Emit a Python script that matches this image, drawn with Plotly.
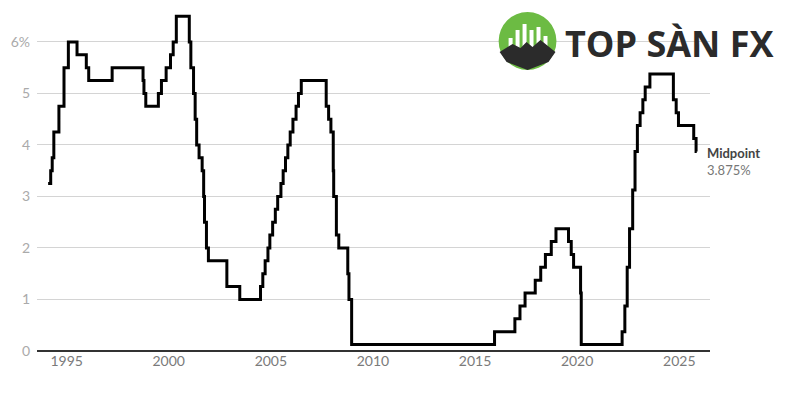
import plotly.graph_objects as go

dates = ["1994-02-04","1994-03-22","1994-04-18","1994-05-17","1994-08-16","1994-11-15",
         "1995-02-01","1995-07-06","1995-12-19","1996-01-31","1997-03-25","1998-09-29",
         "1998-10-15","1998-11-17","1999-06-30","1999-08-24","1999-11-16","2000-02-02",
         "2000-03-21","2000-05-16","2001-01-03","2001-01-31","2001-03-20","2001-04-18",
         "2001-05-15","2001-06-27","2001-08-21","2001-09-17","2001-10-02","2001-11-06",
         "2001-12-11","2002-11-06","2003-06-25","2004-06-30","2004-08-10","2004-09-21",
         "2004-11-10","2004-12-14","2005-02-02","2005-03-22","2005-05-03","2005-06-30",
         "2005-08-09","2005-09-20","2005-11-01","2005-12-13","2006-01-31","2006-03-28",
         "2006-05-10","2006-06-29","2007-09-18","2007-10-31","2007-12-11","2008-01-22",
         "2008-01-30","2008-03-18","2008-04-30","2008-10-08","2008-10-29","2008-12-16",
         "2015-12-16","2016-12-14","2017-03-15","2017-06-14","2017-12-13","2018-03-21",
         "2018-06-13","2018-09-26","2018-12-19","2019-07-31","2019-09-18","2019-10-30",
         "2020-03-03","2020-03-15","2022-03-16","2022-05-04","2022-06-15","2022-07-27",
         "2022-09-21","2022-11-02","2022-12-14","2023-02-01","2023-03-22","2023-05-03",
         "2023-07-26","2024-09-18","2024-11-07","2024-12-18","2025-09-17","2025-10-29",
         "2025-11-10"]
rates = [3.25,3.5,3.75,4.25,4.75,5.5,
         6.0,5.75,5.5,5.25,5.5,5.25,
         5.0,4.75,5.0,5.25,5.5,5.75,
         6.0,6.5,6.0,5.5,5.0,4.5,
         4.0,3.75,3.5,3.0,2.5,2.0,
         1.75,1.25,1.0,1.25,1.5,1.75,
         2.0,2.25,2.5,2.75,3.0,3.25,
         3.5,3.75,4.0,4.25,4.5,4.75,
         5.0,5.25,4.75,4.5,4.25,3.5,
         3.0,2.25,2.0,1.5,1.0,0.125,
         0.375,0.625,0.875,1.125,1.375,1.625,
         1.875,2.125,2.375,2.125,1.875,1.625,
         1.125,0.125,0.375,0.875,1.625,2.375,
         3.125,3.875,4.375,4.625,4.875,5.125,
         5.375,4.875,4.625,4.375,4.125,3.875,
         3.875]

tick_years = ["1995","2000","2005","2010","2015","2020","2025"]
y_ticks = [0, 1, 2, 3, 4, 5, 6]
y_labels = ["0", "1", "2", "3", "4", "5", "6%"]
end_label = "Midpoint"
end_value = "3.875%"

# page body has an 8px margin; work in reference pixels and shift
OFF = 8
W, H = 800 - OFF, 400 - OFF
L, R, T, B = 35 - OFF, 90, 11 - OFF, 49
pw, ph = W - L - R, H - T - B

def px(x):
    return (x - OFF - L) / pw

def py(y):
    return (H - B - (y - OFF)) / ph

fig = go.Figure()
fig.add_trace(go.Scatter(
    x=dates, y=rates, mode="lines", line=dict(color="#000000", width=3, shape="hv"),
    hoverinfo="skip", showlegend=False,
))

shapes = []
shapes.append(dict(type="circle", xref="paper", yref="paper",
                   x0=px(498), x1=px(556), y0=py(70), y1=py(12),
                   fillcolor="#6cbb43", line=dict(width=0), layer="above"))
for (bx, btop) in [(508, 38), (515, 30), (522, 24), (529, 30), (536, 27), (543, 36)]:
    shapes.append(dict(type="rect", xref="paper", yref="paper",
                       x0=px(bx), x1=px(bx + 4), y0=py(50), y1=py(btop),
                       fillcolor="#ffffff", line=dict(width=0), layer="above"))
mx = [499, 512, 520, 526, 532, 540, 555, 548, 527, 506]
my = [52, 44, 48, 42, 47, 40, 52, 62, 70, 62]
path = "M " + " L ".join(f"{px(a):.4f},{py(b):.4f}" for a, b in zip(mx, my)) + " Z"
shapes.append(dict(type="path", xref="paper", yref="paper", path=path,
                   fillcolor="#2b2b2b", line=dict(width=0), layer="above"))

fig.update_layout(
    width=W, height=H,
    margin=dict(l=L, r=R, t=T, b=B),
    plot_bgcolor="#ffffff", paper_bgcolor="#ffffff",
    font=dict(family="Lato", color="#999999", size=14),
    xaxis=dict(
        type="date", range=["1993-07-20", "2026-07-05"],
        tickvals=[f"{y}-01-01" for y in tick_years], ticktext=tick_years,
        showgrid=False, zeroline=False, showline=False, ticks="",
        tickfont=dict(color="#7a7a7a", size=14, family="Lato"),
    ),
    yaxis=dict(
        range=[0, 6.6], tickvals=y_ticks, ticktext=y_labels,
        showgrid=True, gridcolor="#d4d4d4", gridwidth=1,
        zeroline=True, zerolinecolor="#333333", zerolinewidth=2,
        showline=False, ticks="", ticklabelstandoff=6,
        tickfont=dict(color="#aaaaaa", size=14, family="Lato"),
    ),
    shapes=shapes,
    annotations=[
        dict(xref="paper", yref="paper", x=px(705), y=py(153), xanchor="left", yanchor="middle",
             text=f"<b>{end_label}</b>", showarrow=False,
             font=dict(family="Lato", size=13, color="#444444")),
        dict(xref="paper", yref="paper", x=px(705), y=py(170), xanchor="left", yanchor="middle",
             text=end_value, showarrow=False,
             font=dict(family="Lato", size=13, color="#777777")),
        dict(xref="paper", yref="paper", x=px(563), y=py(43), xanchor="left", yanchor="middle",
             text="<b>TOP SÀN FX</b>", showarrow=False,
             font=dict(family="Open Sans", size=36, color="#2b2b2b", weight=800)),
    ],
)

fig.write_html("out.html")
